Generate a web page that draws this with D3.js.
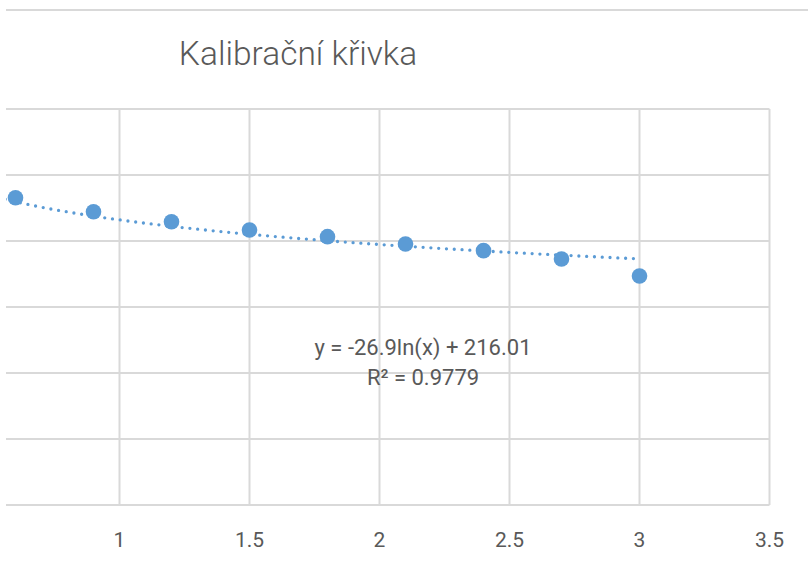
<!DOCTYPE html>
<html>
<head>
<meta charset="utf-8">
<script src="https://cdn.jsdelivr.net/npm/d3@7"></script>
<style>
  body { margin: 0; padding: 0; background: #fff; }
  text { font-family: Roboto, "Open Sans", sans-serif; fill: #595959; }
</style>
</head>
<body>
<script>
// data
var xValues = [0.6, 0.9, 1.2, 1.5, 1.8, 2.1, 2.4, 2.7, 3.0];
var yValues = [232.8, 222.2, 214.6, 208.3, 203.3, 197.7, 192.7, 186.4, 173.5];
var xTicks  = [1, 1.5, 2, 2.5, 3, 3.5];
var yTicks  = [0, 50, 100, 150, 200, 250, 300];
var fitA = -26.9, fitB = 216.01;           // y = a ln(x) + b
var title = "Kalibrační křivka";
var eqLine1 = "y = -26.9ln(x) + 216.01";
var eqLine2 = "R² = 0.9779";

var W = 808, H = 564;
var plotL = 6, plotR = 769.5, plotT = 109, plotB = 505;

var svg = d3.select("body").append("svg")
  .attr("width", W).attr("height", H);

// x axis from 0 - the left part of the chart is cut off in the picture
var x = d3.scaleLinear().domain([0, 3.5]).range([plotR - 3.5 * 260, plotR]);
var y = d3.scaleLinear().domain([0, 300]).range([plotB, plotT]);

svg.append("defs").append("clipPath").attr("id", "plot")
  .append("rect").attr("x", plotL).attr("y", plotT - 10)
  .attr("width", plotR - plotL + 10).attr("height", plotB - plotT + 20);

// thin line at the very top
svg.append("line")
  .attr("x1", plotL).attr("x2", W).attr("y1", 10).attr("y2", 10)
  .attr("stroke", "#d9d9d9").attr("stroke-width", 2);

svg.append("text")
  .attr("x", 298).attr("y", 65)
  .attr("text-anchor", "middle")
  .style("font-size", "33.5px").style("font-weight", 300)
  .text(title);

var g = svg.append("g").attr("clip-path", "url(#plot)");

// horizontal gridlines
g.selectAll(".hgrid").data(yTicks).enter().append("line")
  .attr("class", "hgrid")
  .attr("x1", plotL).attr("x2", plotR)
  .attr("y1", function (d) { return y(d); })
  .attr("y2", function (d) { return y(d); })
  .attr("stroke", "#d9d9d9").attr("stroke-width", 2);

// vertical gridlines
g.selectAll(".vgrid").data(xTicks).enter().append("line")
  .attr("class", "vgrid")
  .attr("x1", function (d) { return x(d); })
  .attr("x2", function (d) { return x(d); })
  .attr("y1", plotT).attr("y2", plotB)
  .attr("stroke", "#d9d9d9").attr("stroke-width", 2);

// x tick labels
svg.selectAll(".xlab").data(xTicks).enter().append("text")
  .attr("class", "xlab")
  .attr("x", function (d) { return x(d); })
  .attr("y", 547)
  .attr("text-anchor", "middle")
  .style("font-size", "21px")
  .text(function (d) { return d; });

// logarithmic trendline
var fitX = d3.range(0.56, 3.0001, 0.02);
var line = d3.line()
  .x(function (d) { return x(d); })
  .y(function (d) { return y(fitA * Math.log(d) + fitB); });

g.append("path")
  .datum(fitX)
  .attr("d", line)
  .attr("fill", "none")
  .attr("stroke", "#5b9bd5")
  .attr("stroke-width", 3.3)
  .attr("stroke-linecap", "round")
  .attr("stroke-dasharray", "0 7.8");

// points
g.selectAll(".pt").data(xValues).enter().append("circle")
  .attr("class", "pt")
  .attr("cx", function (d) { return x(d); })
  .attr("cy", function (d, i) { return y(yValues[i]); })
  .attr("r", 7.8)
  .attr("fill", "#5b9bd5");

// equation label
svg.append("text")
  .attr("x", 423).attr("y", 355)
  .attr("text-anchor", "middle")
  .style("font-size", "22px")
  .text(eqLine1);
svg.append("text")
  .attr("x", 423).attr("y", 385)
  .attr("text-anchor", "middle")
  .style("font-size", "22px")
  .text(eqLine2);
</script>
</body>
</html>
